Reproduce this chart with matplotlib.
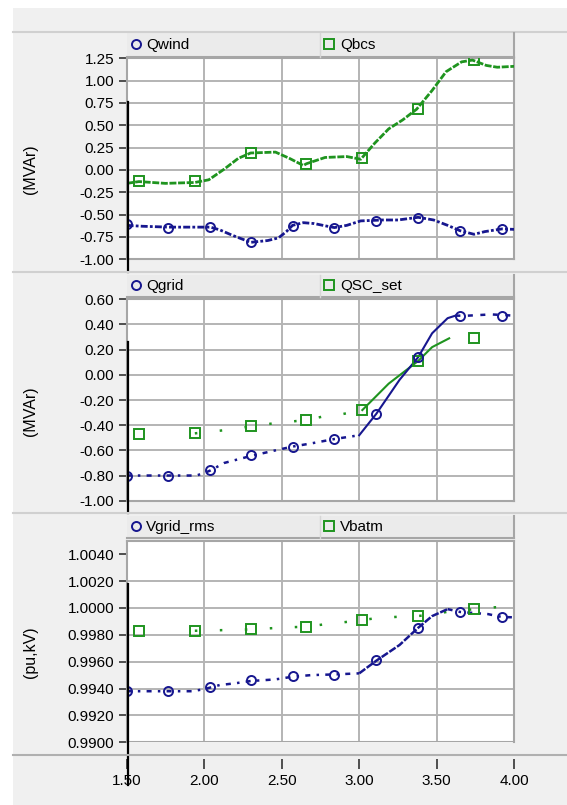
import matplotlib.pyplot as plt
import matplotlib.transforms as mtransforms
from matplotlib.lines import Line2D
from matplotlib.patches import Rectangle

plt.rcParams['font.family'] = ['Liberation Sans', 'DejaVu Sans']

# ---- panel 1: reactive power of wind park and BCS ----
qwind_t = [1.50, 1.60, 1.77, 1.90, 2.04, 2.10, 2.18, 2.30, 2.41, 2.48, 2.53, 2.57, 2.64,
           2.71, 2.78, 2.84, 2.92, 3.01, 3.15, 3.25, 3.38, 3.48, 3.57, 3.65, 3.74, 3.81,
           3.92, 4.00]
qwind_v = [-0.62, -0.63, -0.64, -0.64, -0.64, -0.67, -0.73, -0.81, -0.79, -0.76, -0.69,
           -0.62, -0.59, -0.60, -0.625, -0.645, -0.62, -0.57, -0.56, -0.56, -0.53, -0.56,
           -0.62, -0.68, -0.72, -0.69, -0.66, -0.665]
qwind_mark_t = [1.50, 1.77, 2.04, 2.30, 2.57, 2.84, 3.11, 3.38, 3.65, 3.92]
qwind_mark_v = [-0.61, -0.65, -0.635, -0.81, -0.63, -0.65, -0.57, -0.535, -0.68, -0.66]

qbcs_t = [1.50, 1.58, 1.75, 1.94, 2.03, 2.13, 2.22, 2.30, 2.46, 2.55, 2.64, 2.66, 2.78,
          2.92, 3.01, 3.10, 3.19, 3.28, 3.37, 3.47, 3.56, 3.66, 3.73, 3.82, 3.89, 4.00]
qbcs_v = [-0.15, -0.13, -0.15, -0.14, -0.11, 0.01, 0.13, 0.19, 0.20, 0.13, 0.05, 0.07, 0.14,
          0.15, 0.12, 0.30, 0.46, 0.56, 0.68, 0.89, 1.10, 1.21, 1.23, 1.17, 1.15, 1.16]
qbcs_mark_t = [1.58, 1.94, 2.30, 2.66, 3.02, 3.38, 3.74]
qbcs_mark_v = [-0.125, -0.125, 0.19, 0.07, 0.13, 0.68, 1.23]

# ---- panel 2: grid reactive power and set point ----
qgrid_t = [1.50, 1.65, 1.77, 1.95, 2.00, 2.04, 2.13, 2.30, 2.46, 2.57, 2.69, 2.84, 3.00,
           3.11, 3.26, 3.38, 3.47, 3.57, 3.62, 3.70, 3.85, 4.00]
qgrid_v = [-0.80, -0.80, -0.80, -0.80, -0.78, -0.76, -0.70, -0.645, -0.60, -0.57, -0.545,
           -0.51, -0.48, -0.31, -0.04, 0.14, 0.33, 0.45, 0.47, 0.47, 0.48, 0.47]
qgrid_mark_t = [1.50, 1.77, 2.04, 2.30, 2.57, 2.84, 3.11, 3.38, 3.65, 3.92]
qgrid_mark_v = [-0.80, -0.80, -0.76, -0.64, -0.57, -0.51, -0.31, 0.14, 0.47, 0.47]

qsc_t = [1.94, 2.13, 2.30, 2.48, 2.66, 2.77, 2.86, 3.02, 3.19, 3.38, 3.47, 3.58]
qsc_v = [-0.465, -0.44, -0.41, -0.38, -0.36, -0.33, -0.32, -0.28, -0.07, 0.11, 0.22, 0.29]
qsc_mark_t = [1.58, 1.94, 2.30, 2.66, 3.02, 3.38, 3.74]
qsc_mark_v = [-0.47, -0.465, -0.41, -0.36, -0.28, 0.11, 0.295]

# ---- panel 3: voltages ----
vgrid_t = [1.50, 1.65, 1.77, 1.92, 2.00, 2.10, 2.20, 2.30, 2.46, 2.57, 2.69, 2.84, 3.00,
           3.11, 3.26, 3.38, 3.47, 3.57, 3.65, 3.83, 3.92, 4.00]
vgrid_v = [0.9938, 0.9938, 0.9938, 0.9938, 0.99395, 0.99426, 0.99439, 0.99456, 0.99468,
           0.99488, 0.99500, 0.99505, 0.99513, 0.99607, 0.99724, 0.99852, 0.99939, 0.99991,
           0.99970, 0.99954, 0.99932, 0.99930]
vgrid_mark_t = [1.50, 1.77, 2.04, 2.30, 2.57, 2.84, 3.11, 3.38, 3.65, 3.92]
vgrid_mark_v = [0.9938, 0.9938, 0.9941, 0.9946, 0.9949, 0.9950, 0.9961, 0.9985, 0.9997, 0.9993]

vbatm_t = [1.94, 2.14, 2.30, 2.53, 2.66, 2.77, 2.93, 3.02, 3.10, 3.25, 3.38, 3.45, 3.57,
           3.74, 3.87, 3.94, 4.00]
vbatm_v = [0.9983, 0.99835, 0.9984, 0.99855, 0.9986, 0.99877, 0.99897, 0.9991, 0.99922,
           0.99934, 0.9994, 0.99947, 0.99971, 0.9999, 1.00004, 1.00009, 1.00023]
vbatm_mark_t = [1.58, 1.94, 2.30, 2.66, 3.02, 3.38, 3.74]
vbatm_mark_v = [0.9983, 0.9983, 0.9984, 0.9986, 0.9991, 0.9994, 0.9999]

x_ticks = [1.5, 2.0, 2.5, 3.0, 3.5, 4.0]
q1_ticks = [1.25, 1.00, 0.75, 0.50, 0.25, 0.00, -0.25, -0.50, -0.75, -1.00]
q2_ticks = [0.60, 0.40, 0.20, 0.00, -0.20, -0.40, -0.60, -0.80, -1.00]
v_ticks = [1.0040, 1.0020, 1.0000, 0.9980, 0.9960, 0.9940, 0.9920, 0.9900]
cursor_t = 1.51

BLUE = '#17178f'
GREEN = '#1f941f'
GRID = '#b4b4b4'
FRAME = '#a6a6a6'

W, H = 567, 805


def fx(px):
    return px / W


def fy(py):
    return 1 - py / H


def fig_line(xs, ys, color, lw):
    fig.add_artist(Line2D([fx(x) for x in xs], [fy(y) for y in ys],
                          transform=fig.transFigure, color=color, lw=lw))


fig = plt.figure(figsize=(W / 100, H / 100), dpi=100, facecolor='white')
fig.add_artist(Rectangle((fx(13), 0), 1 - fx(13), fy(8), transform=fig.transFigure,
                         facecolor='#f0f0f0', edgecolor='none', zorder=-10))
fig_line([13, W], [31.7, 31.7], '#d0d0d0', 1.5)
fig_line([13, W], [272.5, 272.5], '#d0d0d0', 1.5)
fig_line([13, W], [513, 513], '#d0d0d0', 1.5)
fig_line([13, W], [754.5, 754.5], '#b0b0b0', 1.5)

X0, X1 = 126.6, 514.3


def legend_bar(y0, y1, name1, name2):
    fig.add_artist(Rectangle((fx(X0), fy(y1)), (X1 - X0) / W, (y1 - y0) / H,
                             transform=fig.transFigure, facecolor='#ebebeb',
                             edgecolor='none', zorder=1))
    fig_line([X0, X1], [y1, y1], FRAME, 1.5)
    fig_line([X1, X1], [y0, y1], FRAME, 1.5)
    fig_line([320, 320], [y0, y1], '#d6d6d6', 1.0)
    yc = (y0 + y1) / 2
    fig.add_artist(Line2D([fx(135.6)], [fy(yc - 1)], transform=fig.transFigure, marker='o',
                          ms=6.5, mfc='none', mec=BLUE, mew=1.4, ls='none'))
    fig.add_artist(Line2D([fx(329)], [fy(yc - 1)], transform=fig.transFigure, marker='s',
                          ms=6.5, mfc='none', mec=GREEN, mew=1.4, ls='none'))
    fig.text(fx(146), fy(yc), name1, fontsize=11, va='center', ha='left')
    fig.text(fx(340), fy(yc), name2, fontsize=11, va='center', ha='left')


def panel(top, bottom, ylim, yticks, ygrid, fmt, ylabel, label_y, cursor_span):
    ax = fig.add_axes([fx(X0), fy(bottom), (X1 - X0) / W, (bottom - top) / H])
    ax.set_facecolor('white')
    ax.set_xlim(1.5, 4.0)
    ax.set_ylim(*ylim)
    for x in x_ticks[1:-1]:
        ax.axvline(x, color=GRID, lw=1.4, zorder=0)
    for y in ygrid:
        ax.axhline(y, color=GRID, lw=1.4, zorder=0)
    for s in ax.spines.values():
        s.set_color(FRAME)
        s.set_linewidth(1.5)
    ax.set_yticks(yticks)
    ax.set_yticklabels([fmt.format(v) for v in yticks])
    ax.tick_params(axis='y', direction='out', length=6, width=1.2, color='#333333',
                   pad=3, labelsize=11)
    ax.set_xticks(x_ticks)
    ax.tick_params(axis='x', bottom=False, labelbottom=False)
    fig.text(fx(30.5), fy(label_y), ylabel, rotation=90, fontsize=11.5,
             ha='center', va='center')
    trans = mtransforms.blended_transform_factory(ax.transData, ax.transAxes)
    ax.plot([cursor_t, cursor_t], cursor_span, transform=trans, color='black',
            lw=1.6, clip_on=False, zorder=10)
    return ax


mk = dict(ls='none', ms=6.5, mfc='none', mew=1.4, zorder=4)

# panel 1
legend_bar(33.3, 56.7, 'Qwind', 'Qbcs')
ax1 = panel(58.3, 259.3, (-1.0, 1.25), q1_ticks, q1_ticks, '{:.2f}', '(MVAr)', 169,
            [0.783, -0.063])
ax1.plot(qbcs_t, qbcs_v, color=GREEN, lw=2.0, ls=(0, (2.5, 0.6)), zorder=3)
ax1.plot(qwind_t, qwind_v, color=BLUE, lw=2.0, ls=(0, (2.5, 0.8, 1, 0.8)), zorder=3)
ax1.plot(qbcs_mark_t, qbcs_mark_v, marker='s', mec=GREEN, **mk)
ax1.plot(qwind_mark_t, qwind_mark_v, marker='o', mec=BLUE, **mk)

# panel 2
legend_bar(275, 297.3, 'Qgrid', 'QSC_set')
ax2 = panel(299.3, 500.7, (-1.0, 0.6), q2_ticks, q2_ticks, '{:.2f}', '(MVAr)', 410.7,
            [0.788, -0.061])
ax2.plot(qsc_t[:8], qsc_v[:8], color=GREEN, lw=1.8, ls=(0, (1, 9)), zorder=3)
ax2.plot(qsc_t[7:], qsc_v[7:], color=GREEN, lw=1.5, zorder=3)
ax2.plot(qgrid_t[:13], qgrid_v[:13], color=BLUE, lw=1.8, ls=(0, (2, 2.5, 1, 2.5)), zorder=3)
ax2.plot(qgrid_t[12:19], qgrid_v[12:19], color=BLUE, lw=1.5, zorder=3)
ax2.plot(qgrid_t[18:], qgrid_v[18:], color=BLUE, lw=1.8, ls=(0, (2, 3)), zorder=3)
ax2.plot(qsc_mark_t, qsc_mark_v, marker='s', mec=GREEN, **mk)
ax2.plot(qgrid_mark_t, qgrid_mark_v, marker='o', mec=BLUE, **mk)

# panel 3
legend_bar(516, 538.3, 'Vgrid_rms', 'Vbatm')
ax3 = panel(540.7, 742.3, (0.990, 1.005), v_ticks, v_ticks[1:], '{:.4f}', '(pu,kV)',
            651.7, [0.785, -0.212])
ax3.plot(vbatm_t, vbatm_v, color=GREEN, lw=1.8, ls=(0, (1, 9)), zorder=3)
ax3.plot(vgrid_t[:13], vgrid_v[:13], color=BLUE, lw=1.8, ls=(0, (2, 2.5, 1, 2.5)), zorder=3)
ax3.plot(vgrid_t[12:18], vgrid_v[12:18], color=BLUE, lw=1.8, ls=(0, (3, 0.7)), zorder=3)
ax3.plot(vgrid_t[17:], vgrid_v[17:], color=BLUE, lw=1.8, ls=(0, (2, 2.5, 1, 2.5)), zorder=3)
ax3.plot(vbatm_mark_t, vbatm_mark_v, marker='s', mec=GREEN, **mk)
ax3.plot(vgrid_mark_t, vgrid_mark_v, marker='o', mec=BLUE, **mk)

# shared time axis below the last panel
ax3.spines['bottom'].set_position(('outward', 12))
ax3.spines['bottom'].set_visible(False)
ax3.axhline(0.990, color=FRAME, lw=1.5, zorder=2)
ax3.set_xticklabels(['{:.2f}'.format(x) for x in x_ticks])
ax3.tick_params(axis='x', bottom=True, labelbottom=True, direction='out', length=7,
                width=1.2, color='#333333', pad=4, labelsize=11)

fig.savefig('out.png', dpi=100, facecolor=fig.get_facecolor())
